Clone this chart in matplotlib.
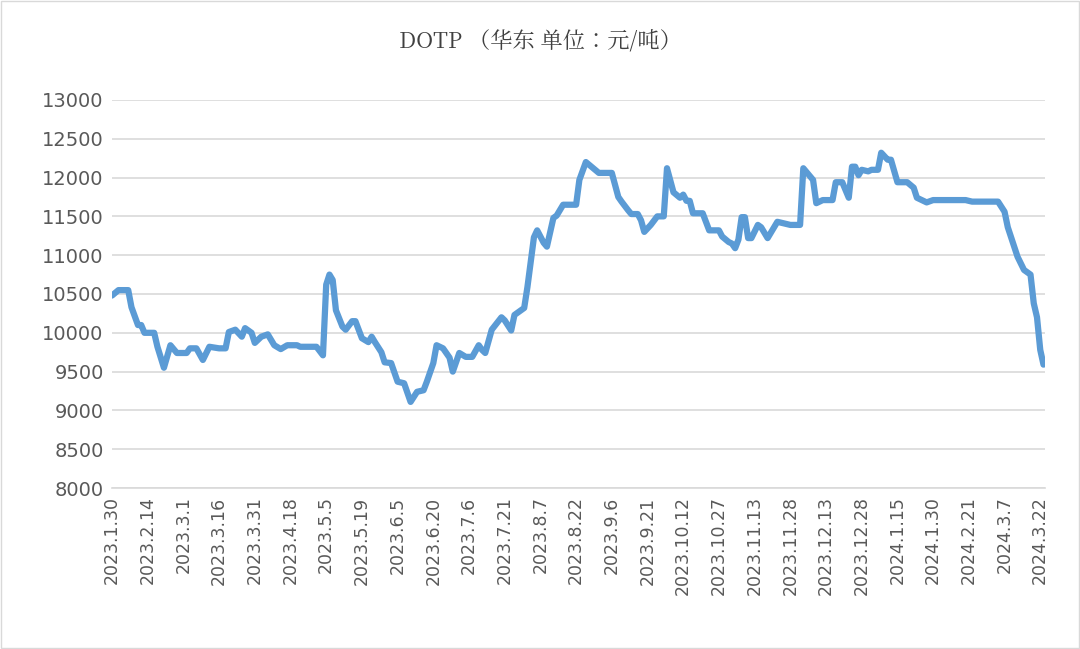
import matplotlib
matplotlib.use("Agg")
import matplotlib.pyplot as plt
from matplotlib import font_manager
from matplotlib.patches import Rectangle

day_index = [0,2,5,6,8,9,10,13,14,16,18,20,23,24,26,28,30,33,35,36,38,40,41,43,44,46,48,50,52,54,57,58,63,65,66,67,68,69,71,72,74,75,77,79,80,81,83,84,86,88,90,92,94,96,97,99,100,102,104,105,107,109,111,113,114,115,117,120,121,123,124,126,127,128,130,131,133,134,136,137,139,143,144,146,148,150,154,156,157,159,160,162,163,164,166,168,170,171,173,175,176,177,178,179,182,184,187,188,190,191,192,193,194,195,196,197,199,200,202,205,209,212,213,216,217,219,222,223,225,227,228,229,230,231,233,234,236,237,239,240,242,245,247,248,251,253,263,265,273,275,276,279,281,283,284,285,286,287]
price = [10480,10550,10550,10330,10100,10100,10000,10000,9820,9550,9840,9740,9740,9800,9800,9650,9820,9800,9800,10010,10040,9950,10060,10000,9870,9950,9980,9840,9790,9840,9840,9820,9820,9710,10620,10750,10680,10290,10080,10040,10150,10150,9930,9880,9950,9880,9750,9620,9610,9370,9350,9110,9240,9260,9370,9610,9840,9800,9680,9500,9740,9690,9690,9840,9780,9740,10040,10200,10160,10030,10230,10290,10320,10590,11230,11320,11160,11110,11480,11510,11650,11650,11970,12200,12130,12060,12060,11750,11690,11580,11530,11530,11450,11300,11390,11500,11500,12120,11810,11740,11780,11700,11700,11540,11540,11320,11320,11240,11170,11150,11090,11200,11490,11490,11220,11220,11390,11360,11220,11430,11390,11390,12120,11970,11670,11710,11710,11940,11940,11740,12140,12140,12030,12100,12080,12100,12100,12320,12230,12230,11940,11940,11870,11740,11680,11710,11710,11690,11690,11560,11360,10980,10810,10750,10380,10200,9780,9590]

tick_labels = ["2023.1.30","2023.2.14","2023.3.1","2023.3.16","2023.3.31","2023.4.18","2023.5.5","2023.5.19","2023.6.5","2023.6.20","2023.7.6","2023.7.21","2023.8.7","2023.8.22","2023.9.6","2023.9.21","2023.10.12","2023.10.27","2023.11.13","2023.11.28","2023.12.13","2023.12.28","2024.1.15","2024.1.30","2024.2.21","2024.3.7","2024.3.22"]
tick_step = 11
y_ticks = list(range(8000, 13001, 500))

cjk = None
for f in font_manager.fontManager.ttflist:
    if "CJK" in f.name and ("SC" in f.name or cjk is None):
        cjk = f.name
        if "SC" in f.name:
            break
if cjk is None:
    import glob
    paths = glob.glob("/usr/share/fonts/**/*CJK*", recursive=True)
    for p in paths:
        try:
            font_manager.fontManager.addfont(p)
        except Exception:
            pass
    for f in font_manager.fontManager.ttflist:
        if "CJK" in f.name:
            cjk = f.name
            break

plt.rcParams["font.family"] = ["DejaVu Sans"]
fig = plt.figure(figsize=(10.8, 6.49), dpi=100)
ax = fig.add_axes([0.1037, 0.248, 0.864, 0.598])
ax.plot(day_index, price, color="#5B9BD5", lw=4.5, solid_joinstyle="round", solid_capstyle="round")
ax.set_xlim(0, 287.5)
ax.set_ylim(8000, 13000)
ax.set_yticks(y_ticks)
ax.set_yticklabels([str(v) for v in y_ticks], fontsize=14, color="#595959")
ax.set_xticks([i * tick_step for i in range(len(tick_labels))])
ax.set_xticklabels(tick_labels, rotation=90, fontsize=12.5, color="#595959")
ax.grid(axis="y", color="#D9D9D9", lw=1.2)
ax.set_axisbelow(True)
for s in ["left", "right", "top"]:
    ax.spines[s].set_visible(False)
ax.spines["bottom"].set_color("#D9D9D9")
ax.spines["bottom"].set_linewidth(1.2)
ax.tick_params(axis="both", length=0, pad=6)
fig.text(0.5, 0.935, "DOTP （华东 单位：元/吨）", ha="center", va="center", fontsize=16,
         color="#404040", fontfamily=[cjk, "DejaVu Sans"] if cjk else "DejaVu Sans")
fig.patches.append(Rectangle((0.001, 0.001), 0.998, 0.998, transform=fig.transFigure, fill=False, edgecolor="#D9D9D9", lw=1))
fig.savefig("out.png", dpi=100)
